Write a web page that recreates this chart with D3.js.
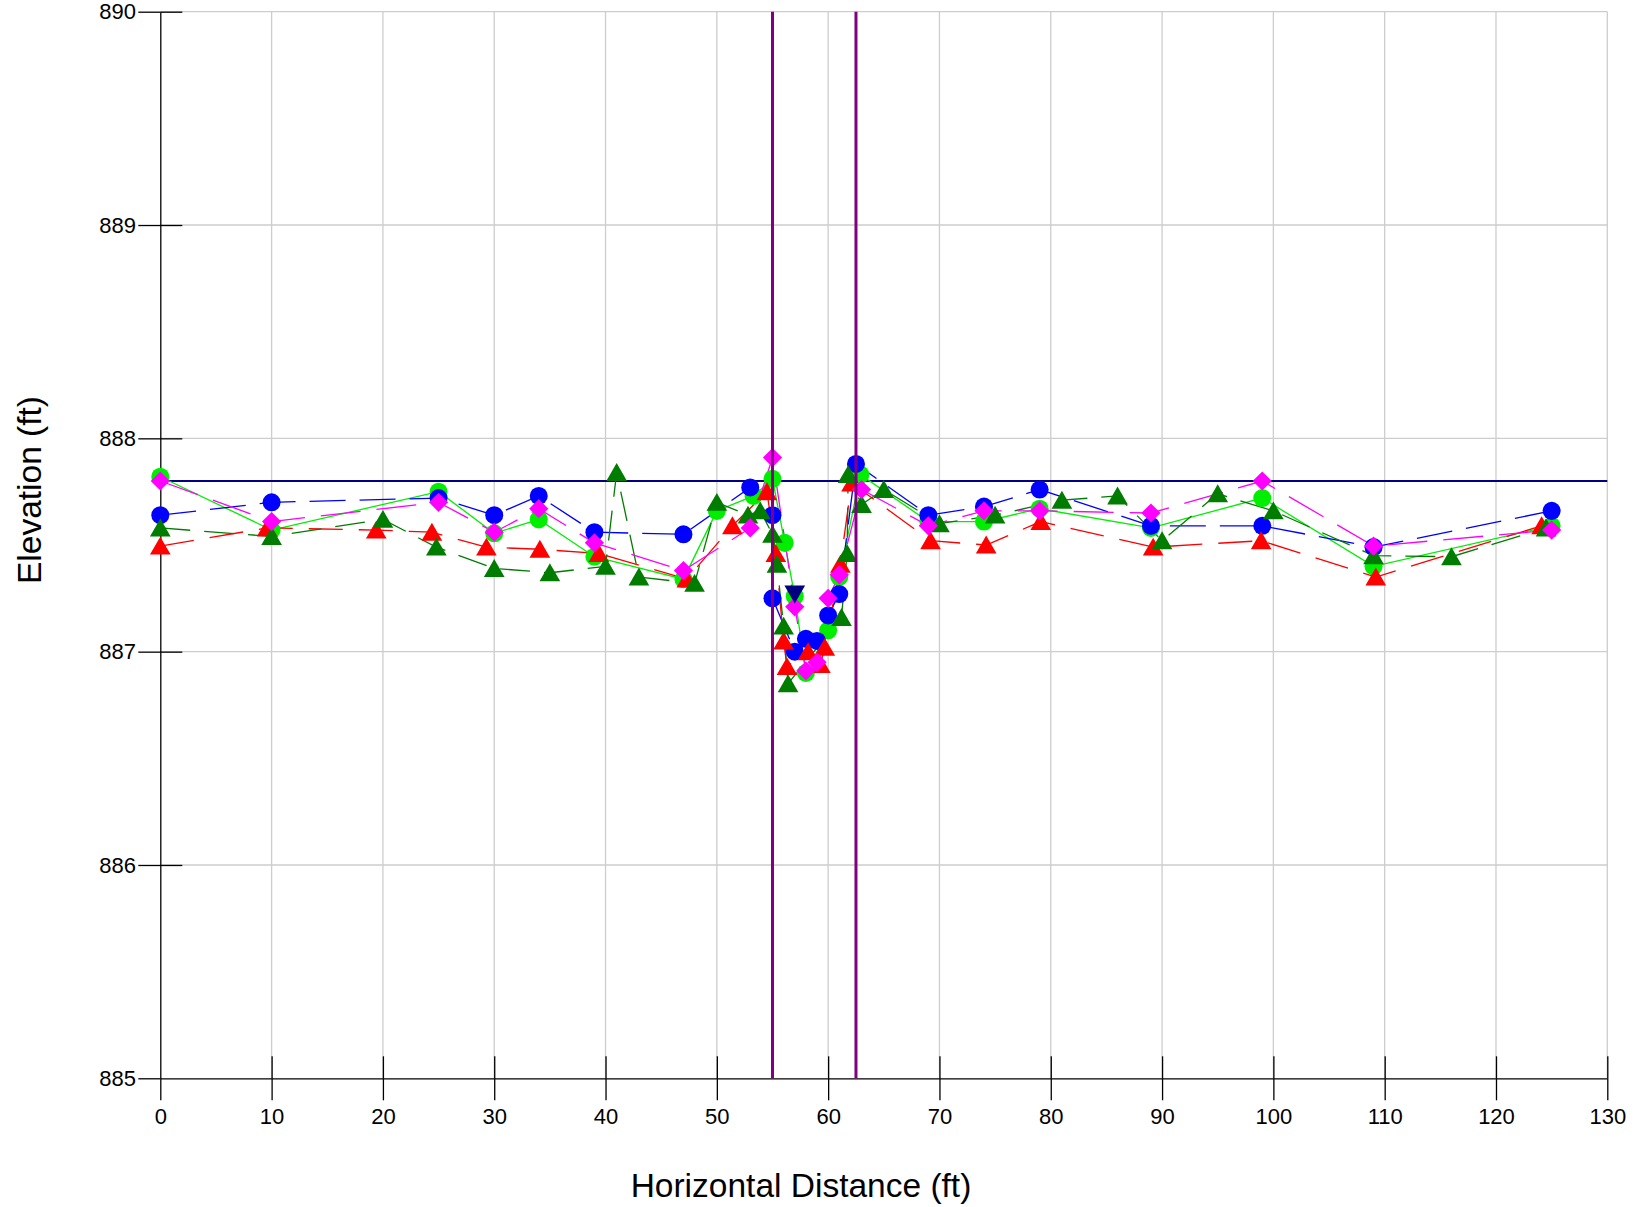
<!DOCTYPE html>
<html><head><meta charset="utf-8">
<script src="https://cdn.jsdelivr.net/npm/d3@7"></script>
<style>
html,body{margin:0;padding:0;background:#fff;}
text{font-family:"Liberation Sans",Arial,Helvetica,sans-serif;}
</style></head>
<body>
<svg id="chart" width="1640" height="1207"></svg>
<script>
// ---- data ----
const xTicks = [0,10,20,30,40,50,60,70,80,90,100,110,120,130];
const yTicks = [885,886,887,888,889,890];

const blueX = [0,10,25,30,34,39,47,53,55,55,57,58,59,60,61,62.5,69,74,79,89,99,109,125];
const blueY = [887.64,887.70,887.72,887.64,887.73,887.56,887.55,887.77,887.64,887.25,887.00,887.06,887.05,887.17,887.27,887.88,887.64,887.68,887.76,887.59,887.59,887.49,887.66];

const limeX = [0,10,25,30,34,39,47,50,53.3,55,56.1,57,58,60,61,62.9,69,74,79,89,99,109,125];
const limeY = [887.82,887.57,887.75,887.555,887.62,887.445,887.34,887.66,887.73,887.81,887.51,887.26,886.90,887.10,887.35,887.83,887.61,887.61,887.67,887.58,887.72,887.40,887.59];

const redX = [0,9.6,19.4,24.4,29.3,34.1,39.4,47.3,51.4,54.5,55.3,56.0,56.3,58.2,59.3,59.7,61.1,62.1,69.2,74.2,79.1,89.2,98.9,109.2,124.1];
const redY = [887.495,887.58,887.57,887.56,887.49,887.48,887.46,887.34,887.59,887.75,887.46,887.05,886.93,887.0,886.94,887.02,887.41,887.79,887.52,887.50,887.61,887.49,887.52,887.35,887.59];

const dgreenX = [0,10,20,24.8,30,35,40,41,43,48,50,52.8,53.9,55,55.4,56,56.4,61.2,61.7,61.8,63,65,70,75,81,86,90,95,100,109,116,124.5];
const dgreenY = [887.58,887.54,887.62,887.49,887.39,887.37,887.40,887.84,887.35,887.32,887.70,887.64,887.66,887.55,887.41,887.12,886.85,887.16,887.46,887.83,887.69,887.76,887.60,887.64,887.71,887.73,887.52,887.74,887.66,887.45,887.445,887.58];

const magentaX = [0,10,25,30,34,39,47,53,55,57,58,59,60,61,63,69,74,79,89,99,109,125];
const magentaY = [887.80,887.61,887.70,887.56,887.67,887.51,887.38,887.58,887.91,887.21,886.91,886.95,887.25,887.36,887.76,887.59,887.66,887.66,887.65,887.80,887.495,887.57];

const navyX = [57];
const navyY = [887.27];

const waterSurface = 887.8;
const bankStations = [55, 62.5];

// ---- layout ----
const svg = d3.select("#chart");
const x = d3.scaleLinear().domain([0,130]).range([160.3,1607.3]);
const y = d3.scaleLinear().domain([885,890]).range([1078.3,11.7]);
const X0 = x(0), Y0 = y(885);

// grid
const grid = svg.append("g");
grid.selectAll("line.gx").data(xTicks.filter(d=>d>0)).join("line")
  .attr("x1",d=>x(d)).attr("x2",d=>x(d)).attr("y1",y(890)).attr("y2",Y0)
  .attr("stroke","#cdcdcd").attr("stroke-width",1.3);
grid.selectAll("line.gy").data(yTicks.filter(d=>d>885)).join("line")
  .attr("x1",X0).attr("x2",x(130)).attr("y1",d=>y(d)).attr("y2",d=>y(d))
  .attr("stroke","#cdcdcd").attr("stroke-width",1.3);

// axes
function styleAxis(g){
  g.selectAll(".domain").attr("stroke","#000").attr("stroke-width",1.3);
  g.selectAll(".tick line").attr("stroke","#000").attr("stroke-width",1.3);
  g.selectAll("text").attr("font-size",22).attr("fill","#000")
    .attr("font-family","'Liberation Sans',Arial,sans-serif");
}
svg.append("g").attr("transform",`translate(0,${Y0})`)
  .call(d3.axisBottom(x).tickValues(xTicks).tickSizeInner(22).tickSizeOuter(0).tickPadding(8.4).tickFormat(d3.format("d")))
  .call(styleAxis);
svg.append("g").attr("transform",`translate(0,${Y0})`)
  .call(d3.axisTop(x).tickValues(xTicks.filter(d=>d>0)).tickSizeInner(22).tickSizeOuter(0).tickFormat(""))
  .call(styleAxis).call(g=>g.select(".domain").remove());
svg.append("g").attr("transform",`translate(${X0},0)`)
  .call(d3.axisLeft(y).tickValues(yTicks).tickSizeInner(22).tickSizeOuter(0).tickPadding(2.3).tickFormat(d3.format("d")))
  .call(styleAxis);
svg.append("g").attr("transform",`translate(${X0},0)`)
  .call(d3.axisRight(y).tickValues(yTicks.filter(d=>d>885)).tickSizeInner(22).tickSizeOuter(0).tickFormat(""))
  .call(styleAxis).call(g=>g.select(".domain").remove());

// axis titles
svg.append("text").attr("x",801).attr("y",1197).attr("text-anchor","middle")
  .attr("font-size",33.5).attr("fill","#000").text("Horizontal Distance (ft)");
svg.append("text").attr("transform","translate(41,490) rotate(-90)").attr("text-anchor","middle")
  .attr("font-size",33.5).attr("fill","#000").text("Elevation (ft)");

// water surface
svg.append("line").attr("x1",X0).attr("x2",x(130))
  .attr("y1",y(waterSurface)).attr("y2",y(waterSurface))
  .attr("stroke","#000080").attr("stroke-width",1.8);

// series
const line = d3.line().x(d=>x(d[0])).y(d=>y(d[1]));
const zip = (a,b)=>a.map((v,i)=>[v,b[i]]);
const series = [
  {xs:limeX, ys:limeY, color:"#00ee00", dash:null, sym:"circle"},
  {xs:blueX, ys:blueY, color:"#0000ff", dash:"36,14", sym:"circle"},
  {xs:redX, ys:redY, color:"#ff0000", dash:"34,16", sym:"triangle"},
  {xs:dgreenX, ys:dgreenY, color:"#007c00", dash:"30,14", sym:"triangle"},
  {xs:magentaX, ys:magentaY, color:"#ff00ff", dash:"40,16", sym:"diamond"}
];
const symPath = {
  circle: d3.symbol().type(d3.symbolCircle).size(255)(),
  triangle: d3.symbol().type(d3.symbolTriangle).size(185)(),
  diamond: d3.symbol().type(d3.symbolSquare).size(185)()
};
series.forEach(s=>{
  const pts = zip(s.xs,s.ys);
  svg.append("path").datum(pts).attr("d",line).attr("fill","none")
    .attr("stroke",s.color).attr("stroke-width",1.3)
    .attr("stroke-dasharray",s.dash);
});
series.forEach(s=>{
  const pts = zip(s.xs,s.ys);
  svg.append("g").selectAll("path").data(pts).join("path")
    .attr("d",symPath[s.sym])
    .attr("transform",d=>{
      let t = `translate(${x(d[0])},${y(d[1]) + (s.sym==="triangle"?2.5:0)})`;
      if(s.sym==="diamond") t += " rotate(45)";
      return t;
    })
    .attr("fill",s.color);
});
svg.append("g").selectAll("path").data(zip(navyX,navyY)).join("path")
  .attr("d",symPath.triangle)
  .attr("transform",d=>`translate(${x(d[0])},${y(d[1])-2.5}) rotate(180)`)
  .attr("fill","#000080");

// bank stations
svg.append("g").selectAll("line").data(bankStations).join("line")
  .attr("x1",d=>x(d)).attr("x2",d=>x(d)).attr("y1",y(890)).attr("y2",Y0)
  .attr("stroke","#800080").attr("stroke-width",3);
</script>
</body></html>
